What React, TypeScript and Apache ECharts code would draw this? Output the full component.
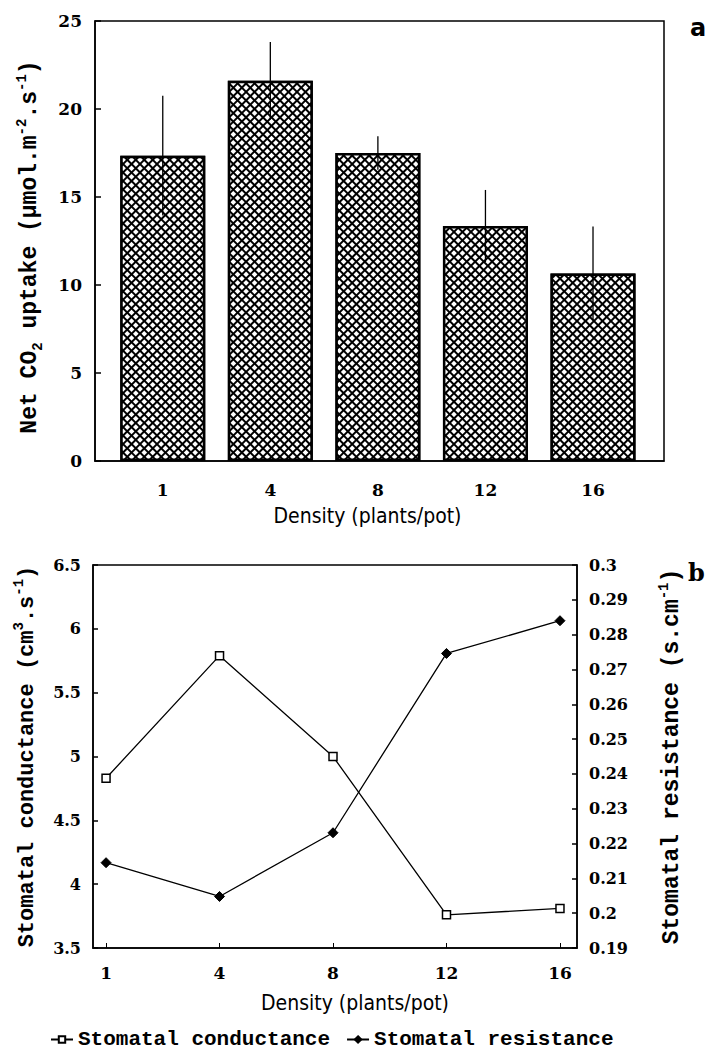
import { useEffect, useRef } from 'react';
import * as echarts from 'echarts';

const densities = ['1', '4', '8', '12', '16'];
const co2Uptake = [17.35, 21.6, 17.5, 13.35, 10.65];
const co2Error = [3.4, 2.2, 0.95, 2.05, 2.67];
const conductance = [4.83, 5.79, 5.0, 3.76, 3.81];
const resistance = [0.2145, 0.2048, 0.2231, 0.2746, 0.284];

const MONO = "'Liberation Mono', 'DejaVu Sans Mono', monospace";
const NUM = "'DejaVu Serif', 'Liberation Serif', serif";
const SANS = "'DejaVu Sans Condensed', 'DejaVu Sans', sans-serif";

export default function App() {
  const ref = useRef<HTMLDivElement>(null);
  useEffect(() => {
    const chart = echarts.init(ref.current!, null, { renderer: 'svg' });
    const idx = densities.map((_, i) => i);
    const labelFmt = (v: number) => densities[Math.round(v)] ?? '';
    const numLabel = { color: '#000', fontFamily: NUM, fontWeight: 'bold' as const, fontSize: 16 };
    const richSS = {
      sup: { fontFamily: MONO, fontWeight: 'bold', fontSize: 14, lineHeight: 14, verticalAlign: 'top' },
      sub: { fontFamily: MONO, fontWeight: 'bold', fontSize: 14, lineHeight: 14, verticalAlign: 'bottom' },
    };
    const titleStyle = {
      color: '#000',
      fontFamily: MONO,
      fontWeight: 'bold' as const,
      fontSize: 23,
      lineHeight: 30,
      rich: richSS,
    };
    const axisLine = { show: true, onZero: false, lineStyle: { color: '#000', width: 1.5 } };
    const option: any = {
      animation: false,
      backgroundColor: '#fff',
      grid: [
        { left: 95, top: 21, width: 569, height: 440, show: true, borderColor: '#000', borderWidth: 1.5 },
        { left: 93, top: 565, width: 484, height: 383, show: true, borderColor: '#000', borderWidth: 1.5 },
      ],
      xAxis: [
        {
          gridIndex: 0,
          type: 'value',
          min: -0.63,
          max: 4.66,
          splitLine: { show: false },
          axisLine,
          axisTick: { show: false },
          axisLabel: { customValues: idx, formatter: labelFmt, margin: 20, ...numLabel, fontSize: 17 },
          name: 'Density (plants/pot)',
          nameLocation: 'middle',
          nameGap: 44,
          nameTextStyle: { color: '#000', fontFamily: SANS, fontSize: 21, padding: [0, 24, 0, 0] },
        },
        {
          gridIndex: 1,
          type: 'value',
          min: -0.115,
          max: 4.15,
          splitLine: { show: false },
          axisLine,
          axisTick: { show: true, inside: true, length: 5, customValues: idx, lineStyle: { color: '#000' } },
          axisLabel: { customValues: idx, formatter: labelFmt, margin: 16, ...numLabel, fontSize: 17 },
          name: 'Density (plants/pot)',
          nameLocation: 'middle',
          nameGap: 44,
          nameTextStyle: { color: '#000', fontFamily: SANS, fontSize: 21, padding: [0, 0, 0, 40] },
        },
      ],
      yAxis: [
        {
          gridIndex: 0,
          type: 'value',
          min: 0,
          max: 25,
          interval: 5,
          splitLine: { show: false },
          axisLine,
          axisTick: { show: true, inside: true, length: 6, lineStyle: { color: '#000', width: 1.5 } },
          axisLabel: { margin: 13, ...numLabel, fontSize: 17 },
          name: 'Net CO{sub|2} uptake (µmol.m{sup|-2}.s{sup|-1})',
          nameLocation: 'middle',
          nameRotate: 90,
          nameGap: 50,
          nameTextStyle: { ...titleStyle, padding: [0, 12, 0, 0] },
        },
        {
          gridIndex: 1,
          type: 'value',
          position: 'left',
          min: 3.5,
          max: 6.5,
          interval: 0.5,
          splitLine: { show: false },
          axisLine,
          axisTick: { show: true, inside: true, length: 5, lineStyle: { color: '#000', width: 1.5 } },
          axisLabel: { margin: 12, ...numLabel },
          name: 'Stomatal conductance (cm{sup|3}.s{sup|-1})',
          nameLocation: 'middle',
          nameRotate: 90,
          nameGap: 50,
          nameTextStyle: { ...titleStyle, fontSize: 22 },
        },
        {
          gridIndex: 1,
          type: 'value',
          position: 'right',
          min: 0.19,
          max: 0.3,
          interval: 0.01,
          splitLine: { show: false },
          axisLine,
          axisTick: { show: true, inside: true, length: 5, lineStyle: { color: '#000', width: 1.5 } },
          axisLabel: { margin: 12, ...numLabel, formatter: (v: number) => String(+v.toFixed(2)) },
          name: 'Stomatal resistance (s.cm{sup|-1})',
          nameLocation: 'middle',
          nameRotate: 90,
          nameGap: 80,
          nameTextStyle: { ...titleStyle, fontSize: 23 },
        },
      ],
      legend: {
        left: 45,
        top: 1024,
        itemGap: 16,
        itemWidth: 22,
        itemHeight: 8,
        data: ['Stomatal conductance', 'Stomatal resistance'],
        textStyle: { color: '#000', fontFamily: MONO, fontWeight: 'bold', fontSize: 21 },
      },
      graphic: [
        { type: 'text', left: 690, top: 16, style: { text: 'a', font: "bold 24px 'DejaVu Sans'", fill: '#000' } },
        { type: 'text', left: 688, top: 560, style: { text: 'b', font: "bold 24px 'DejaVu Serif'", fill: '#000' } },
      ],
      series: [
        {
          type: 'bar',
          xAxisIndex: 0,
          yAxisIndex: 0,
          barWidth: 85,
          data: idx.map((i) => [i, co2Uptake[i]]),
          itemStyle: {
            color: '#000',
            borderColor: '#000',
            borderWidth: 2.5,
            decal: {
              symbol: 'rect',
              symbolSize: 1,
              color: '#fff',
              dashArrayX: [4, 2],
              dashArrayY: [4, 2],
              rotation: Math.PI / 4,
            },
          },
          z: 2,
        },
        {
          type: 'custom',
          xAxisIndex: 0,
          yAxisIndex: 0,
          data: idx.map((i) => [i, co2Uptake[i] - co2Error[i], co2Uptake[i] + co2Error[i]]),
          encode: { x: 0, y: [1, 2] },
          renderItem: (_p: any, api: any) => {
            const lo = api.coord([api.value(0), api.value(1)]);
            const hi = api.coord([api.value(0), api.value(2)]);
            return {
              type: 'line',
              shape: { x1: lo[0], y1: lo[1], x2: hi[0], y2: hi[1] },
              style: { stroke: '#000', lineWidth: 1.3 },
            };
          },
          z: 5,
        },
        {
          name: 'Stomatal conductance',
          type: 'line',
          xAxisIndex: 1,
          yAxisIndex: 1,
          data: idx.map((i) => [i, conductance[i]]),
          symbol: 'rect',
          symbolSize: 8,
          showAllSymbol: true,
          lineStyle: { color: '#000', width: 1.3 },
          itemStyle: { color: '#fff', borderColor: '#000', borderWidth: 1.5 },
          z: 3,
        },
        {
          name: 'Stomatal resistance',
          type: 'line',
          xAxisIndex: 1,
          yAxisIndex: 2,
          data: idx.map((i) => [i, resistance[i]]),
          symbol: 'diamond',
          symbolSize: 10,
          lineStyle: { color: '#000', width: 1.3 },
          itemStyle: { color: '#000', borderColor: '#000', borderWidth: 1 },
          z: 3,
        },
      ],
    };
    chart.setOption(option);
    return () => chart.dispose();
  }, []);
  return (
    <div
      ref={ref}
      style={{ position: 'absolute', left: 0, top: 0, width: 710, height: 1053, background: '#fff' }}
    />
  );
}
